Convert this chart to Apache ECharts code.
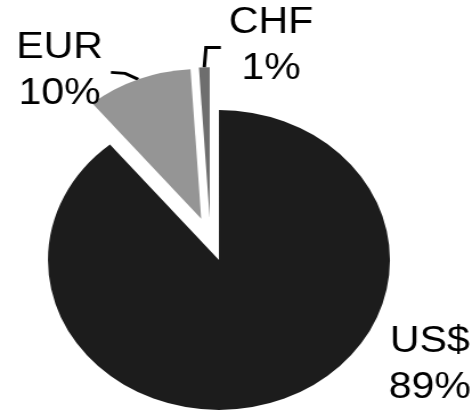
<!DOCTYPE html>
<html>
<head>
<meta charset="utf-8">
<script src="https://cdn.jsdelivr.net/npm/echarts@6/dist/echarts.min.js"></script>
<style>
  html, body { margin: 0; padding: 0; background: #fff; overflow: hidden; }
  /* the whole drawing is widened horizontally */
  #chart { width: 414px; height: 415px; transform: scaleX(1.14); transform-origin: 0 0; }
</style>
</head>
<body>
<div id="chart"></div>
<script>
// Currency split
const categories = ['US$', 'EUR', 'CHF'];
const shares = [89, 10, 1];

// Styling
const sliceColors = ['#1c1c1c', '#959595', '#6e6e6e'];
const PIE_CENTER = [184.6, 239.3];
const PIE_RADIUS = 150;
const EXPLODE = 22;            // every slice is pulled out along its bisector
const LABEL_GAP = 7;
// leader line bends, as steps from the arc point; null = label without a line
const leaderSteps = [null, [[-11.5, -6], [-12.5, -1]], [[1.5, -20], [13, 0]]];

// slice geometry: bisector angle and exploded centre of each slice
const total = shares.reduce((a, b) => a + b, 0);
const sliceGeo = [];
let acc = 0;
shares.forEach(v => {
  const mid = (acc + v / 2) / total * 2 * Math.PI; // clockwise from 12 o'clock
  acc += v;
  const dx = Math.sin(mid), dy = -Math.cos(mid);
  sliceGeo.push({
    dx, dy,
    center: [PIE_CENTER[0] + EXPLODE * dx, PIE_CENTER[1] + EXPLODE * dy]
  });
});

function placeLabel(p) {
  const i = p.dataIndex;
  if (p.seriesIndex !== i) return {};
  const steps = leaderSteps[i];
  const halfW = p.labelRect.width / 2;
  if (!steps) {
    // label beside the lower right of the big slice
    return {
      x: p.rect.x + p.rect.width + halfW - 1,
      y: p.rect.y + p.rect.height - 45,
      align: 'center', verticalAlign: 'middle'
    };
  }
  const g = sliceGeo[i];
  const pts = [[g.center[0] + PIE_RADIUS * g.dx, g.center[1] + PIE_RADIUS * g.dy]];
  steps.forEach(s => {
    const last = pts[pts.length - 1];
    pts.push([last[0] + s[0], last[1] + s[1]]);
  });
  const end = pts[pts.length - 1];
  const dir = steps[steps.length - 1][0] < 0 ? -1 : 1;
  return {
    x: end[0] + dir * (LABEL_GAP + halfW),
    y: end[1] - 1,
    align: 'center', verticalAlign: 'middle',
    labelLinePoints: pts
  };
}

const series = shares.map((v, i) => ({
  type: 'pie',
  name: categories[i],
  center: sliceGeo[i].center,
  radius: PIE_RADIUS,
  startAngle: 90,
  clockwise: true,
  avoidLabelOverlap: false,
  silent: true,
  itemStyle: { borderWidth: 0 },
  label: {
    show: true,
    position: 'outside',
    formatter: '{b}\n{c}%',
    color: '#000',
    fontFamily: '"Liberation Sans", Arial, sans-serif',
    fontSize: 36,
    lineHeight: 46
  },
  labelLine: { show: true, length: 10, length2: 10, lineStyle: { color: '#000', width: 3 } },
  labelLayout: placeLabel,
  data: categories.map((name, j) => ({
    name,
    value: shares[j],
    itemStyle: { color: j === i ? sliceColors[j] : 'rgba(0,0,0,0)' },
    label: { show: j === i },
    labelLine: { show: j === i && leaderSteps[j] !== null }
  }))
}));

const chart = echarts.init(document.getElementById('chart'), null, { renderer: 'canvas' });
chart.setOption({
  backgroundColor: '#fff',
  animation: false,
  series
});
</script>
</body>
</html>
